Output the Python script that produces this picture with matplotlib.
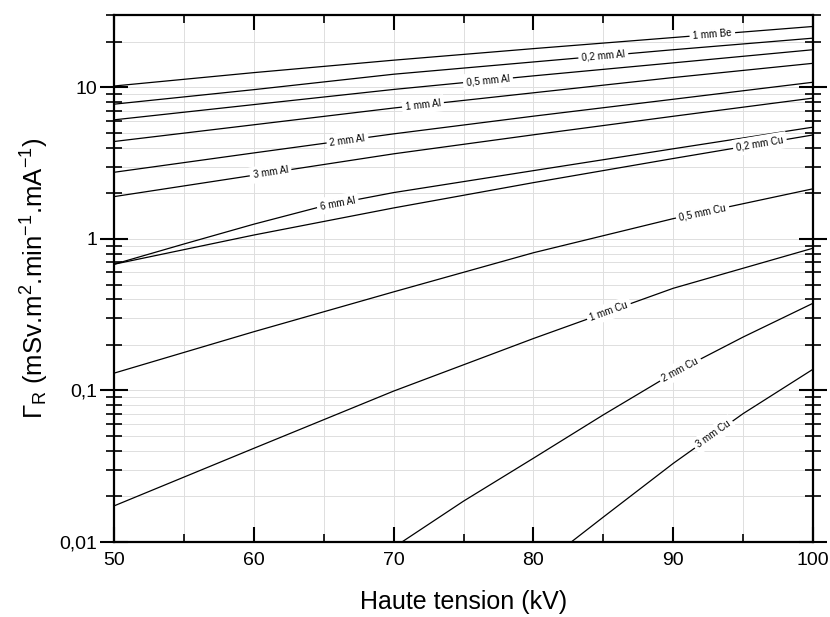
import numpy as np
import matplotlib
matplotlib.use("Agg")
import matplotlib.pyplot as plt
from matplotlib.ticker import FixedLocator, FixedFormatter, MultipleLocator, NullFormatter

plt.rcParams['font.family'] = ['Liberation Sans', 'DejaVu Sans']
plt.rcParams['mathtext.fontset'] = 'custom'
plt.rcParams['mathtext.rm'] = 'Liberation Sans'
plt.rcParams['mathtext.it'] = 'Liberation Sans:italic'
plt.rcParams['mathtext.sf'] = 'Liberation Sans'

# ---- data ----
kv = [50, 60, 70, 80, 90, 100]
be_1 = [10.2, 12.5, 15.1, 18.0, 21.3, 25.2]
al_02 = [7.74, 9.65, 12.2, 14.7, 17.7, 21.1]
al_05 = [6.1, 7.69, 9.68, 11.9, 14.5, 17.7]
al_1 = [4.39, 5.66, 7.30, 9.20, 11.6, 14.4]
al_2 = [2.75, 3.69, 4.93, 6.45, 8.34, 10.8]
al_3 = [1.90, 2.63, 3.64, 4.86, 6.44, 8.49]
kv_al6 = [50, 55, 60, 65, 70, 80, 90, 100]
al_6 = [0.68, 0.925, 1.25, 1.65, 2.02, 2.82, 3.93, 5.46]
cu_02 = [0.68, 1.06, 1.60, 2.35, 3.39, 4.85]
cu_05 = [0.130, 0.244, 0.447, 0.810, 1.36, 2.14]
cu_1 = [0.0173, 0.0415, 0.099, 0.220, 0.472, 0.868]
kv_cu2 = [70, 75, 80, 85, 90, 95, 100]
cu_2 = [0.0092, 0.0186, 0.0357, 0.069, 0.130, 0.225, 0.376]
kv_cu3 = [80, 85, 90, 95, 100]
cu_3 = [0.0064, 0.0146, 0.033, 0.0703, 0.138]

labels = ["1 mm Be", "0,2 mm Al", "0,5 mm Al", "1 mm Al", "2 mm Al", "3 mm Al",
          "6 mm Al", "0,2 mm Cu", "0,5 mm Cu", "1 mm Cu", "2 mm Cu", "3 mm Cu"]
label_kv = [92.8, 85.0, 76.75, 72.1, 66.7, 61.2, 66.0, 96.2, 92.1, 85.4, 90.5, 92.9]

series = [(kv, be_1), (kv, al_02), (kv, al_05), (kv, al_1), (kv, al_2), (kv, al_3),
          (kv_al6, al_6), (kv, cu_02), (kv, cu_05), (kv, cu_1), (kv_cu2, cu_2), (kv_cu3, cu_3)]

y_ticks = [0.01, 0.1, 1, 10]
y_ticklabels = ["0,01", "0,1", "1", "10"]
x_ticks = [50, 60, 70, 80, 90, 100]

fig = plt.figure(figsize=(8.3, 6.17), dpi=100)
ax = fig.add_axes([114/830, 1-542/617, (813-114)/830, (542-15)/617])
ax.set_yscale('log')
ax.set_xlim(50, 100)
ax.set_ylim(0.01, 30)

for (x, y) in series:
    ax.plot(x, y, color='black', lw=0.9, zorder=3)

# grid
ax.xaxis.set_major_locator(FixedLocator(x_ticks))
ax.xaxis.set_minor_locator(MultipleLocator(5))
minors = [m * 10.0**e for e in range(-2, 2) for m in range(2, 10)]
ax.yaxis.set_major_locator(FixedLocator(y_ticks))
ax.yaxis.set_major_formatter(FixedFormatter(y_ticklabels))
ax.yaxis.set_minor_locator(FixedLocator(minors))
ax.yaxis.set_minor_formatter(NullFormatter())
ax.grid(True, which='both', color='#dedede', lw=0.7, zorder=0)
ax.set_axisbelow(True)

for s in ax.spines.values():
    s.set_linewidth(1.6)

ax.tick_params(axis='x', which='major', direction='in', length=11, width=1.5,
               top=True, labelsize=14, pad=7)
ax.tick_params(axis='x', which='minor', direction='in', length=6, width=1.2, top=True)
ax.tick_params(axis='y', which='major', direction='inout', length=20, width=1.5,
               right=True, labelsize=14, pad=2)
ax.tick_params(axis='y', which='minor', direction='inout', length=12, width=1.2, right=True)

ax.set_xlabel("Haute tension (kV)", fontsize=18, labelpad=15)
ax.set_ylabel(r"$\Gamma_{\rm R}$ (mSv.m$^{2}$.min$^{-1}$.mA$^{-1}$)", fontsize=18.5, labelpad=6)

# inline labels
for (x, y), lab, lx in zip(series, labels, label_kv):
    ly = 10 ** np.interp(lx, x, np.log10(y))
    y1 = 10 ** np.interp(lx - 1, x, np.log10(y))
    y2 = 10 ** np.interp(lx + 1, x, np.log10(y))
    p1 = ax.transData.transform((lx - 1, y1))
    p2 = ax.transData.transform((lx + 1, y2))
    ang = np.degrees(np.arctan2(p2[1] - p1[1], p2[0] - p1[0]))
    ax.text(lx, ly, lab, fontsize=7, rotation=ang, rotation_mode='anchor',
            ha='center', va='center', zorder=4,
            bbox=dict(boxstyle='square,pad=0.35', fc='white', ec='none'))

fig.savefig("out.png", dpi=100)
